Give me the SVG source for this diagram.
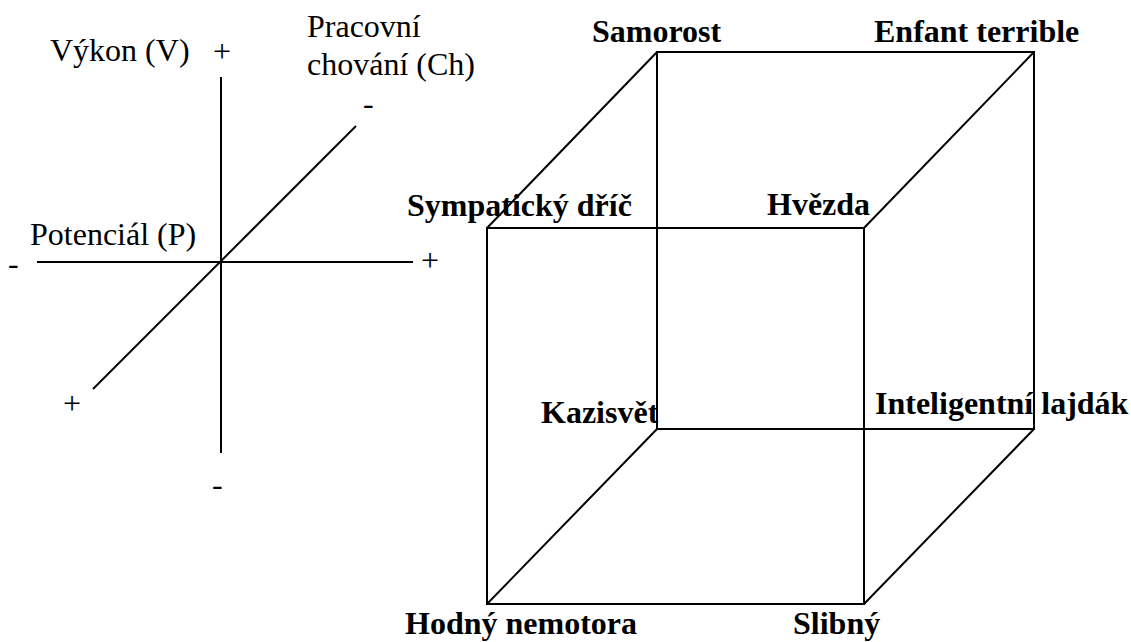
<svg xmlns="http://www.w3.org/2000/svg" width="1131" height="642" viewBox="0 0 1131 642">
  <style>
    .ax { font-family: 'Liberation Serif', 'DejaVu Serif', serif; font-size: 32px; fill: #000; }
    .lb { font-family: 'Liberation Serif', 'DejaVu Serif', serif; font-size: 32px; font-weight: bold; fill: #000; }
    .ln { stroke: #000; stroke-width: 2; fill: none; stroke-linecap: butt; }
  </style>
  <rect width="1131" height="642" fill="#fff"/>

  <!-- Axis cross: V vertical, P horizontal, Ch diagonal -->
  <g id="axes">
    <line class="ln" x1="221" y1="77" x2="221" y2="453"/>
    <line class="ln" x1="37" y1="262" x2="413" y2="262"/>
    <line class="ln" x1="356" y1="126" x2="93" y2="389"/>
    <text class="ax" x="50" y="61">Výkon (V)</text>
    <text class="ax" x="213" y="62">+</text>
    <text class="ax" x="307" y="37">Pracovní</text>
    <text class="ax" x="307" y="75">chování (Ch)</text>
    <text class="ax" x="363" y="114">-</text>
    <text class="ax" x="30" y="245">Potenciál (P)</text>
    <text class="ax" x="8" y="274">-</text>
    <text class="ax" x="421" y="271">+</text>
    <text class="ax" x="63" y="414">+</text>
    <text class="ax" x="212" y="495">-</text>
  </g>

  <!-- Cube edges -->
  <g id="connectors">
    <rect class="ln" x="657" y="52" width="377" height="377"/>
    <rect class="ln" x="487" y="228" width="377" height="376"/>
    <line class="ln" x1="487" y1="228" x2="657" y2="52"/>
    <line class="ln" x1="864" y1="228" x2="1034" y2="52"/>
    <line class="ln" x1="487" y1="604" x2="657" y2="429"/>
    <line class="ln" x1="864" y1="604" x2="1034" y2="429"/>
  </g>

  <!-- Cube corner labels -->
  <g id="samorost"><text class="lb" x="592" y="42">Samorost</text></g>
  <g id="enfant-terrible"><text class="lb" x="874" y="42">Enfant terrible</text></g>
  <g id="sympaticky-dric"><text class="lb" x="407" y="216">Sympatický dříč</text></g>
  <g id="hvezda"><text class="lb" x="767" y="215">Hvězda</text></g>
  <g id="kazisvet"><text class="lb" x="541" y="423">Kazisvět</text></g>
  <g id="inteligentni-lajdak"><text class="lb" x="875" y="414">Inteligentní lajdák</text></g>
  <g id="hodny-nemotora"><text class="lb" x="405" y="634">Hodný nemotora</text></g>
  <g id="slibny"><text class="lb" x="793" y="634">Slibný</text></g>
</svg>
